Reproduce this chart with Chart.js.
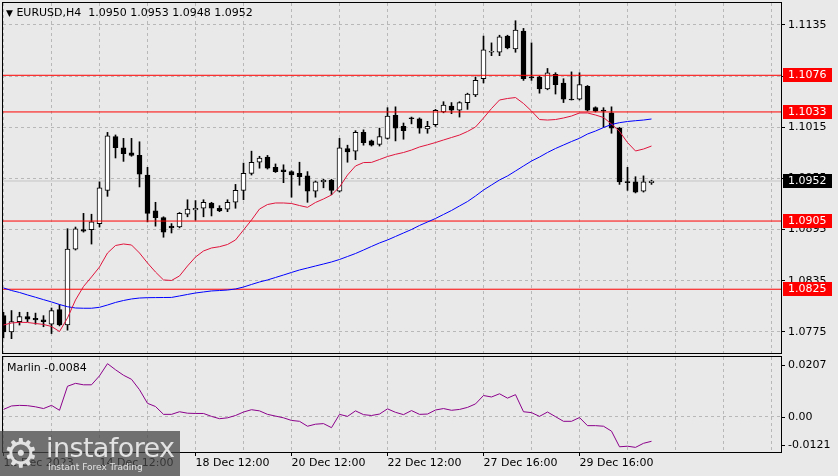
<!DOCTYPE html>
<html>
<head>
<meta charset="utf-8">
<title>EURUSD H4</title>
<script src="https://cdn.jsdelivr.net/npm/chart.js@4.4.1/dist/chart.umd.min.js"></script>
<style>
  html, body { margin: 0; padding: 0; background: #e9e9e9; }
  #wrap { position: relative; width: 838px; height: 476px; overflow: hidden; font-family: "DejaVu Sans", sans-serif; }
  canvas { position: absolute; left: 0; }
  #main { top: 0; }
  #osc { top: 356px; }
  #title { position: absolute; left: 6px; top: 6px; font-size: 11px; line-height: 13px; white-space: pre; color: #000; }
  #title .tri { font-size: 9px; }
  #marlinLbl { position: absolute; left: 7px; top: 361px; font-size: 11px; line-height: 13px; white-space: pre; color: #000; }
  #logo { position: absolute; left: 0; top: 431px; width: 180px; height: 45px; background: rgba(70,70,70,0.74); color: #e2e2e2; }
  #gear { position: absolute; left: 3px; top: 0; font-size: 40px; line-height: 44px; }
  #brand { position: absolute; left: 46px; top: 1px; font-size: 27px; line-height: 32px; letter-spacing: -0.6px; }
  #slogan { position: absolute; left: 48px; top: 31px; font-size: 9px; line-height: 11px; }
</style>
</head>
<body>
<div id="wrap">
  <canvas id="main" width="838" height="356"></canvas>
  <canvas id="osc" width="838" height="120"></canvas>
  <div id="title"></div>
  <div id="marlinLbl"></div>
  <div id="logo"><div id="gear">⚙</div><div id="brand">instaforex</div><div id="slogan">Instant Forex Trading</div></div>
</div>
<script>
// EURUSD H4 candles, one per 4 hours
const opens = [1.0794,1.0775,1.0787,1.0793,1.0791,1.0789,1.0784,1.0801,1.0783,1.0872,
  1.0895,1.0895,1.0902,1.0941,1.1004,1.0991,1.0985,1.0982,1.0959,1.0917,
  1.0909,1.0899,1.0898,1.0913,1.0918,1.0920,1.0926,1.0920,1.0919,1.0927,
  1.0941,1.0961,1.0974,1.0980,1.0968,1.0965,1.0963,1.0961,1.0958,1.0940,
  1.0951,1.0953,1.0940,1.0990,1.0987,1.1009,1.0999,1.0995,1.1002,1.1029,
  1.1016,1.1026,1.1025,1.1013,1.1018,1.1033,1.1040,1.1035,1.1044,1.1053,
  1.1072,1.1103,1.1103,1.1122,1.1107,1.1128,1.1074,1.1074,1.1060,1.1077,
  1.1067,1.1048,1.1048,1.1063,1.1038,1.1035,1.1032,1.1014,1.0951,1.0951,
  1.0940,1.0950];
const highs = [1.0798,1.0800,1.0798,1.0798,1.0797,1.0794,1.0803,1.0807,1.0896,1.0898,
  1.0914,1.0913,1.0951,1.1009,1.1006,1.1002,1.1002,1.0998,1.0968,1.0927,
  1.0910,1.0902,1.0915,1.0930,1.0929,1.0930,1.0927,1.0923,1.0930,1.0948,
  1.0973,1.0987,1.0981,1.0982,1.0972,1.0971,1.0964,1.0974,1.0963,1.0952,
  1.0954,1.0954,1.1002,1.0994,1.1011,1.1012,1.1000,1.1014,1.1038,1.1039,
  1.1020,1.1027,1.1026,1.1022,1.1036,1.1045,1.1044,1.1045,1.1055,1.1074,
  1.1122,1.1114,1.1123,1.1123,1.1140,1.1131,1.1114,1.1075,1.1084,1.1079,
  1.1072,1.1080,1.1079,1.1064,1.1039,1.1038,1.1039,1.1015,1.0968,1.0957,
  1.0958,1.0953];
const lows = [1.0768,1.0767,1.0783,1.0787,1.0784,1.0781,1.0773,1.0782,1.0777,1.0871,
  1.0892,1.0878,1.0898,1.0934,1.0979,1.0975,1.0981,1.0945,1.0904,1.0899,
  1.0886,1.0891,1.0897,1.0910,1.0906,1.0910,1.0911,1.0916,1.0916,1.0920,
  1.0930,1.0959,1.0967,1.0966,1.0962,1.0950,1.0933,1.0947,1.0927,1.0933,
  1.0944,1.0936,1.0939,1.0974,1.0977,1.0994,1.0993,1.0993,1.1001,1.0999,
  1.1001,1.1019,1.1008,1.1008,1.1016,1.1032,1.1031,1.1027,1.1036,1.1051,
  1.1067,1.1099,1.1099,1.1107,1.1103,1.1070,1.1070,1.1055,1.1059,1.1054,
  1.1044,1.1047,1.1047,1.1034,1.1033,1.1015,1.1008,1.0948,1.0941,1.0938,
  1.0939,1.0948];
const closes = [1.0775,1.0787,1.0793,1.0790,1.0789,1.0787,1.0800,1.0783,1.0872,1.0896,
  1.0893,1.0904,1.0944,1.1005,1.0991,1.0984,1.0982,1.0960,1.0914,1.0909,
  1.0892,1.0897,1.0914,1.0919,1.0920,1.0927,1.0920,1.0917,1.0927,1.0941,
  1.0961,1.0974,1.0979,1.0967,1.0963,1.0963,1.0959,1.0957,1.0940,1.0951,
  1.0953,1.0941,1.0991,1.0986,1.1009,1.0997,1.0994,1.1004,1.1028,1.1014,
  1.1011,1.1025,1.1014,1.1016,1.1035,1.1041,1.1035,1.1044,1.1054,1.1070,
  1.1106,1.1104,1.1121,1.1108,1.1129,1.1072,1.1073,1.1060,1.1079,1.1065,
  1.1048,1.1047,1.1065,1.1035,1.1034,1.1034,1.1014,1.0951,1.0950,1.0939,
  1.0951,1.0952];

// moving averages (red = fast, blue = slow)
const maFast = [1.07831,1.07854,1.07862,1.07860,1.07848,1.07837,1.07813,1.07754,1.07913,1.08124,
  1.08282,1.08394,1.08511,1.08675,1.08763,1.08781,1.08769,1.08675,1.08558,1.08452,
  1.08359,1.08353,1.08406,1.08523,1.08628,1.08699,1.08734,1.08749,1.08775,1.08828,
  1.08945,1.09062,1.09191,1.09244,1.09262,1.09262,1.09256,1.09232,1.09211,1.09268,
  1.09309,1.09356,1.09449,1.09590,1.09696,1.09736,1.09738,1.09772,1.09807,1.09833,
  1.09854,1.09883,1.09919,1.09944,1.09971,1.10001,1.10030,1.10059,1.10101,1.10153,
  1.10259,1.10370,1.10470,1.10488,1.10499,1.10429,1.10341,1.10241,1.10235,1.10241,
  1.10259,1.10282,1.10318,1.10318,1.10294,1.10265,1.10188,1.10101,1.09971,1.09872,
  1.09895,1.09930];
const maSlow = [1.08265,1.08235,1.08212,1.08183,1.08156,1.08128,1.08101,1.08071,1.08045,1.08030,
  1.08027,1.08027,1.08038,1.08065,1.08095,1.08118,1.08136,1.08147,1.08151,1.08152,
  1.08153,1.08154,1.08171,1.08189,1.08206,1.08218,1.08230,1.08235,1.08241,1.08253,
  1.08276,1.08306,1.08335,1.08359,1.08388,1.08417,1.08447,1.08476,1.08499,1.08523,
  1.08546,1.08570,1.08599,1.08634,1.08669,1.08710,1.08752,1.08793,1.08828,1.08869,
  1.08910,1.08951,1.08998,1.09039,1.09080,1.09127,1.09174,1.09227,1.09279,1.09344,
  1.09414,1.09473,1.09532,1.09579,1.09637,1.09696,1.09754,1.09801,1.09854,1.09901,
  1.09942,1.09983,1.10021,1.10071,1.10106,1.10147,1.10183,1.10204,1.10218,1.10227,
  1.10235,1.10247];

// Marlin oscillator
const marlin = [0.0026,0.0038,0.0040,0.0039,0.0035,0.0029,0.0040,0.0023,0.0106,0.0116,
  0.0111,0.0111,0.0142,0.0184,0.0163,0.0144,0.0130,0.0094,0.0047,0.0036,
  0.0009,0.0009,0.0018,0.0013,0.0012,0.0012,0.0002,-0.0006,-0.0003,0.0005,
  0.0017,0.0025,0.0021,0.0009,0.0003,-0.0003,-0.0012,-0.0015,-0.0032,-0.0025,
  -0.0023,-0.0037,0.0009,0.0002,0.0021,0.0008,0.0005,0.0010,0.0028,0.0016,
  0.0008,0.0022,0.0009,0.0010,0.0024,0.0029,0.0023,0.0026,0.0033,0.0045,
  0.0074,0.0069,0.0080,0.0065,0.0077,0.0018,0.0015,0.0002,0.0017,0.0001,
  -0.0015,-0.0015,-0.0002,-0.0030,-0.0030,-0.0032,-0.0049,-0.0103,-0.0101,-0.0105,
  -0.0091,-0.0084];

const levels = [1.1076, 1.1033, 1.0905, 1.0825];
const lastPrice = 1.0952;
const priceTicks = [1.1135, 1.1075, 1.1015, 1.0955, 1.0895, 1.0835, 1.0775];
const marlinTicks = [0.0207, 0, -0.0121];
const gridIdx = [0, 6, 12, 18, 24, 30, 36, 42, 48, 54, 60, 66, 72, 78, 84, 90, 96];
const labelIdx = [0, 12, 24, 36, 48, 60, 72];
const timeLabels = ['12 Dec 2023', '14 Dec 12:00', '18 Dec 12:00', '20 Dec 12:00',
  '22 Dec 12:00', '27 Dec 16:00', '29 Dec 16:00'];

// axis bounds
const xMin = -0.0625, xMax = 97.1875;
const yMin = 1.07502, yMax = 1.11608;
const oscMin = -0.0121, oscMax = 0.0207;

const FONT = 'DejaVu Sans';
const GRID = '#b8b8b8';
Chart.defaults.font.family = FONT;

const last = opens.length - 1;
document.getElementById('title').innerHTML =
  '<span class="tri">▼</span> EURUSD,H4  ' +
  [opens[last], highs[last], lows[last], closes[last]].map(v => v.toFixed(4)).join(' ');
document.getElementById('marlinLbl').textContent = 'Marlin ' + marlin[last].toFixed(4);

// keep the plot area where the axes say, no extra room for edge labels
const noPad = s => { s.paddingTop = 0; s.paddingBottom = 0; s.paddingLeft = 0; s.paddingRight = 0; };

const frame = {
  id: 'frame',
  afterDraw(chart) {
    const { ctx, chartArea: a } = chart;
    ctx.save();
    ctx.strokeStyle = '#000';
    ctx.lineWidth = 1;
    ctx.strokeRect(a.left - 0.5, a.top - 0.5, a.right - a.left + 1, a.bottom - a.top + 1);
    ctx.restore();
  }
};

const priceTags = {
  id: 'priceTags',
  afterDraw(chart) {
    const { ctx, chartArea: a } = chart;
    const y = chart.scales.y;
    const tag = (v, bg) => {
      const py = Math.round(y.getPixelForValue(v));
      ctx.fillStyle = bg;
      ctx.fillRect(a.right + 2, py - 7, 49, 14);
      ctx.fillStyle = '#fff';
      ctx.font = '11px "' + FONT + '"';
      ctx.textBaseline = 'middle';
      ctx.textAlign = 'left';
      ctx.fillText(v.toFixed(4), a.right + 7, py + 0.5);
    };
    ctx.save();
    levels.forEach(v => tag(v, '#ff0000'));
    tag(lastPrice, '#000');
    ctx.restore();
  }
};

const oscAxis = {
  id: 'oscAxis',
  afterDraw(chart) {
    const { ctx, chartArea: a } = chart;
    const y = chart.scales.y;
    ctx.save();
    ctx.font = '11px "' + FONT + '"';
    ctx.fillStyle = '#000';
    ctx.strokeStyle = '#000';
    ctx.lineWidth = 1;
    ctx.textBaseline = 'middle';
    marlinTicks.forEach(v => {
      let py = Math.round(y.getPixelForValue(v));
      py = Math.min(Math.max(py, a.top + 8), a.bottom - 7);
      ctx.beginPath();
      ctx.moveTo(a.right, py + 0.5);
      ctx.lineTo(a.right + 4, py + 0.5);
      ctx.stroke();
      ctx.fillText(v === 0 ? '0.00' : v.toFixed(4), a.right + 7, py);
    });
    ctx.restore();
  }
};

const flat = (v, color, order) => ({
  type: 'line', data: [{ x: xMin, y: v }, { x: xMax, y: v }],
  borderColor: color, borderWidth: 1, pointRadius: 0, order: order
});

new Chart(document.getElementById('main'), {
  type: 'bar',
  data: {
    datasets: [
      {
        data: opens.map((o, i) => ({ x: i, y: [o, closes[i]] })),
        backgroundColor: c => (c.raw && c.raw.y[1] >= c.raw.y[0]) ? '#ffffff' : '#000000',
        borderColor: '#000', borderWidth: 1, borderSkipped: false,
        barThickness: 5, minBarLength: 1, grouped: false, order: 1
      },
      {
        data: lows.map((l, i) => ({ x: i, y: [l, highs[i]] })),
        backgroundColor: '#000', borderWidth: 0,
        barThickness: 1, grouped: false, order: 2
      },
      {
        type: 'line', data: maFast.map((v, i) => ({ x: i, y: v })),
        borderColor: '#e0143c', borderWidth: 1, pointRadius: 0, tension: 0, order: 0
      },
      {
        type: 'line', data: maSlow.map((v, i) => ({ x: i, y: v })),
        borderColor: '#0000ff', borderWidth: 1, pointRadius: 0, tension: 0, order: 0
      },
      flat(lastPrice, '#c4c4c4', 3),
      ...levels.map(v => flat(v, '#ff0000', 0))
    ]
  },
  options: {
    responsive: false,
    animation: false,
    layout: { padding: { left: 3, top: 3, right: 0, bottom: 3 } },
    plugins: { legend: { display: false }, tooltip: { enabled: false } },
    scales: {
      x: {
        type: 'linear', min: xMin, max: xMax, offset: false,
        afterBuildTicks: s => { s.ticks = gridIdx.map(v => ({ value: v })); },
        afterFit: s => { s.height = 0; noPad(s); },
        ticks: { display: false },
        grid: { color: GRID, drawTicks: false, offset: false },
        border: { display: false, dash: [3, 3] }
      },
      y: {
        position: 'right', min: yMin, max: yMax,
        afterBuildTicks: s => { s.ticks = priceTicks.map(v => ({ value: v })); },
        afterFit: s => { s.width = 57; noPad(s); },
        ticks: { color: '#000', font: { size: 11 }, padding: 3, callback: v => v.toFixed(4) },
        grid: { color: GRID, tickColor: '#000', tickLength: 4, tickBorderDash: [] },
        border: { display: false, dash: [3, 3] }
      }
    }
  },
  plugins: [frame, priceTags]
});

new Chart(document.getElementById('osc'), {
  type: 'line',
  data: {
    datasets: [{
      data: marlin.map((v, i) => ({ x: i, y: v })),
      borderColor: '#8b008b', borderWidth: 1, pointRadius: 0, tension: 0
    }]
  },
  options: {
    responsive: false,
    animation: false,
    layout: { padding: { left: 3, top: 1, right: 0, bottom: 0 } },
    plugins: { legend: { display: false }, tooltip: { enabled: false } },
    scales: {
      x: {
        type: 'linear', min: xMin, max: xMax, offset: false,
        afterBuildTicks: s => { s.ticks = gridIdx.map(v => ({ value: v })); },
        afterFit: s => { s.height = 24; noPad(s); },
        ticks: {
          autoSkip: false, maxRotation: 0, align: 'start', padding: 1,
          color: '#000', font: { size: 11 },
          callback: v => { const i = labelIdx.indexOf(v); return i < 0 ? '' : timeLabels[i]; }
        },
        grid: {
          color: GRID, tickLength: 4, tickBorderDash: [],
          tickColor: c => (c.tick && labelIdx.includes(c.tick.value)) ? '#000' : 'rgba(0,0,0,0)'
        },
        border: { display: false, dash: [3, 3] }
      },
      y: {
        position: 'right', min: oscMin, max: oscMax,
        afterBuildTicks: s => { s.ticks = marlinTicks.map(v => ({ value: v })); },
        afterFit: s => { s.width = 57; noPad(s); },
        ticks: { display: false },
        grid: { drawTicks: false, color: c => (c.tick && c.tick.value === 0) ? GRID : 'rgba(0,0,0,0)' },
        border: { display: false, dash: [3, 3] }
      }
    }
  },
  plugins: [frame, oscAxis]
});
</script>
</body>
</html>
